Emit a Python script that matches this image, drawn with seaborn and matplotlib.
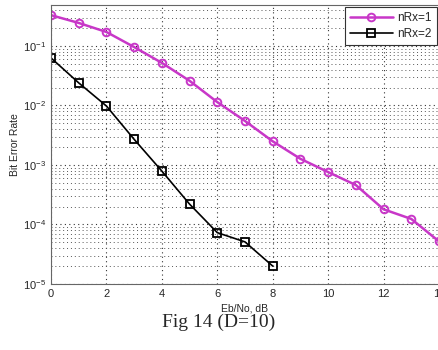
import numpy as np
import pandas as pd
import matplotlib
matplotlib.use("Agg")
import matplotlib.pyplot as plt
import seaborn as sns

ebno_1 = list(range(0, 15))
ber_1 = [0.33, 0.244, 0.172, 0.096, 0.052, 0.026, 0.0114, 0.0055, 0.0025,
         0.00127, 0.00076, 0.00046, 0.00018, 0.000124, 0.000052]
ebno_2 = list(range(0, 9))
ber_2 = [0.063, 0.024, 0.0098, 0.0027, 0.00079, 0.00022, 0.000073, 0.000051, 0.00002]
labels = ["nRx=1", "nRx=2"]

df1 = pd.DataFrame({"x": ebno_1, "y": ber_1})
df2 = pd.DataFrame({"x": ebno_2, "y": ber_2})

sns.set_style("white")
plt.rcParams["font.family"] = ["Liberation Sans", "DejaVu Sans"]
plt.rcParams["mathtext.fontset"] = "custom"
plt.rcParams["mathtext.rm"] = "Liberation Sans"

fig = plt.figure(figsize=(4.38, 3.5), dpi=100)
ax = fig.add_axes([51 / 438, 66 / 350, 388 / 438, 279 / 350])

sns.lineplot(data=df1, x="x", y="y", ax=ax, color="#c837c8", lw=1.8,
             marker="o", markersize=5.5, markerfacecolor="none",
             markeredgecolor="#c837c8", markeredgewidth=1.4, label=labels[0])
sns.lineplot(data=df2, x="x", y="y", ax=ax, color="black", lw=1.2,
             marker="s", markersize=5.5, markerfacecolor="none",
             markeredgecolor="black", markeredgewidth=1.3, label=labels[1])

ax.set_yscale("log")
ax.set_xlim(0, 14)
ax.set_ylim(1e-5, 10 ** -0.311)
ax.set_xticks(range(0, 15, 2))
ax.grid(True, which="major", ls=(0, (1, 3)), color="#333333", lw=0.8)
ax.grid(True, which="minor", axis="y", ls=(0, (1, 3)), color="#555555", lw=0.7)
ax.tick_params(direction="in", labelsize=8, length=3, which="both")
ax.set_xlabel("Eb/No, dB", fontsize=7.5, labelpad=3)
ax.set_ylabel("Bit Error Rate", fontsize=7.5, labelpad=2)
for s in ax.spines.values():
    s.set_color("#666666")
    s.set_linewidth(0.8)

leg = ax.legend(loc="upper right", fontsize=8.5, frameon=True, fancybox=False,
                handlelength=3.6, handletextpad=0.4, borderpad=0.4,
                labelspacing=0.35, borderaxespad=0.2)
leg.get_frame().set_edgecolor("#333333")
leg.get_frame().set_linewidth(0.8)
leg.get_frame().set_alpha(1)

fig.text(0.5, 1 - 322 / 350, "Fig 14 (D=10)", ha="center", va="center",
         fontsize=14, family=["Liberation Serif", "DejaVu Serif"])

plt.savefig("out.png", dpi=100)
plt.close("all")
